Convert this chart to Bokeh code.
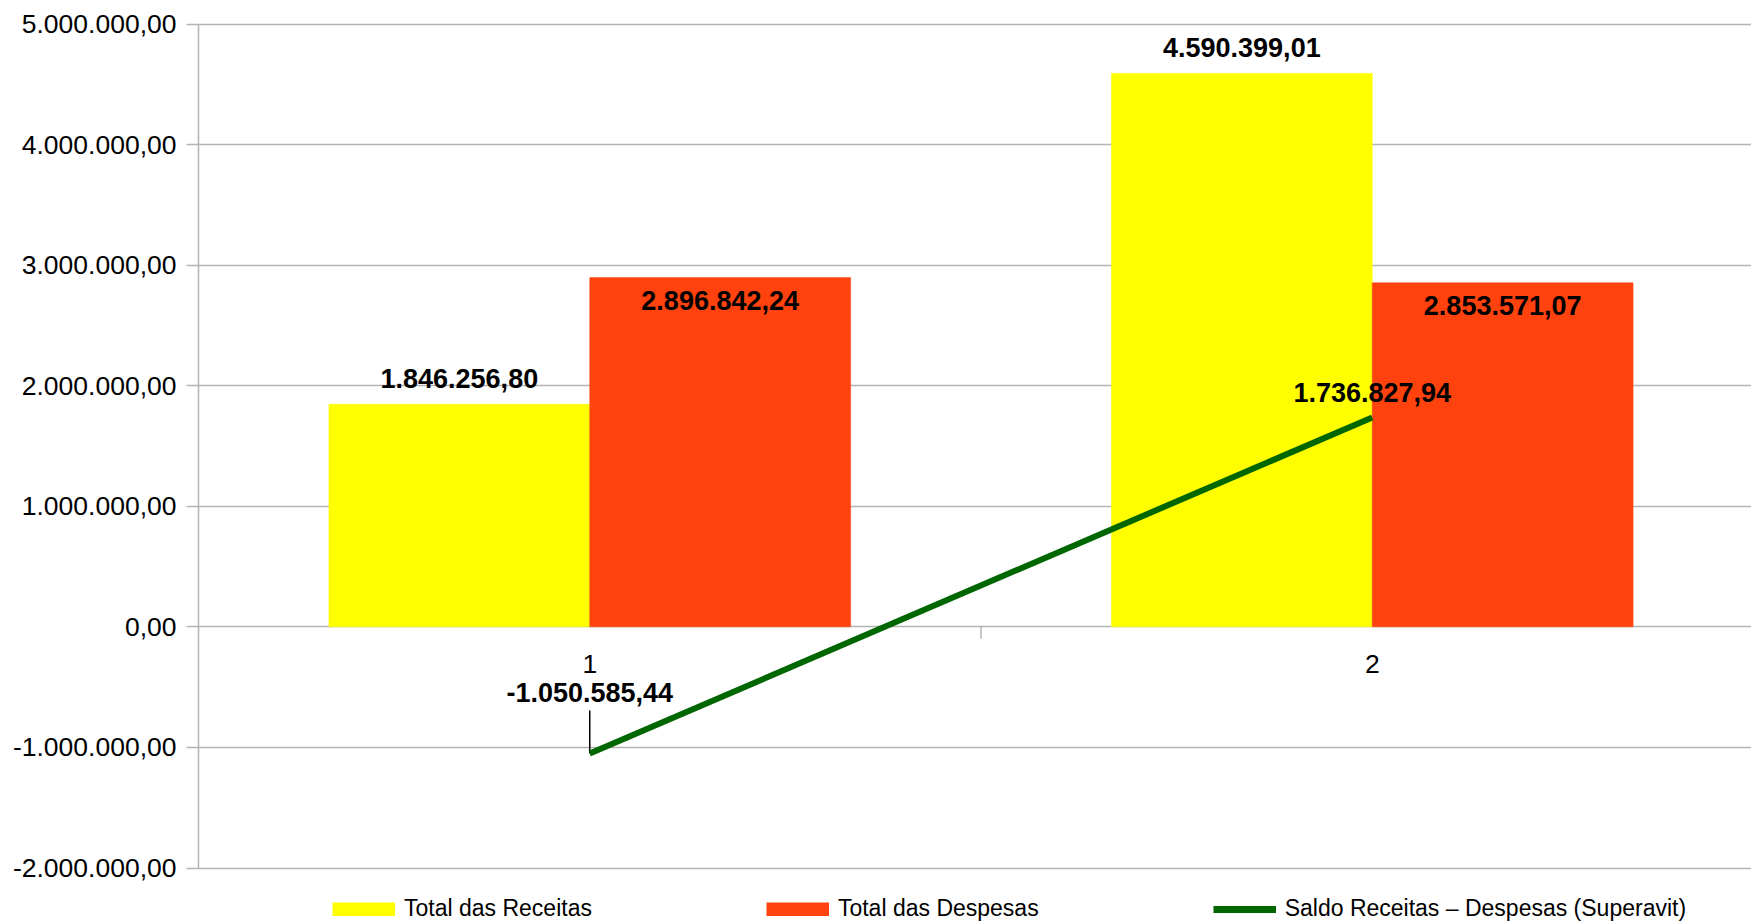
import numpy as np
from bokeh.plotting import figure
from bokeh.models import Range1d, FixedTicker, Legend, LegendItem, ColumnDataSource
from bokeh.core.properties import value
from bokeh.embed import file_html
from bokeh.resources import INLINE

# ---- data ----
categories = ["1", "2"]
cat_pos = [1, 2]
receitas = [1846256.80, 4590399.01]
despesas = [2896842.24, 2853571.07]
saldo = [-1050585.44, 1736827.94]
series_names = ["Total das Receitas", "Total das Despesas", "Saldo Receitas \u2013 Despesas (Superavit)"]
y_ticks = [-2000000, -1000000, 0, 1000000, 2000000, 3000000, 4000000, 5000000]
y_tick_labels = ["-2.000.000,00", "-1.000.000,00", "0,00", "1.000.000,00",
                 "2.000.000,00", "3.000.000,00", "4.000.000,00", "5.000.000,00"]


def br(v):
    s = f"{v:,.2f}"
    return s.replace(",", "X").replace(".", ",").replace("X", ".")


FONT = "Liberation Sans"
YELLOW = "#FFFF00"
RED = "#FF420E"
GREEN = "#006600"
GRID = "#B3B3B3"

W, H = 1751, 922
LEFT = 198
TOP_PX, BOT_PX = 23.5, 867.5           # pixel rows of the top / bottom ticks
CAT_W = 782.5                           # pixels per category
ymin, ymax = y_ticks[0], y_ticks[-1]
upp = (ymax - ymin) / (BOT_PX - TOP_PX)  # data units per pixel
y_start = ymin - (H - BOT_PX) * upp
y_end = ymax + TOP_PX * upp
x_end = 0.5 + (W - LEFT) / CAT_W

p = figure(width=W, height=H,
           x_range=Range1d(0.5, x_end), y_range=Range1d(y_start, y_end),
           output_backend="svg", toolbar_location=None, x_axis_location=None,
           min_border_left=LEFT, min_border_right=0, min_border_top=0, min_border_bottom=0)
p.outline_line_color = None
p.background_fill_color = "white"
p.border_fill_color = "white"

# axes / grid
p.yaxis.ticker = FixedTicker(ticks=y_ticks)
p.yaxis.bounds = (ymin, ymax)
p.yaxis.major_label_overrides = {t: l for t, l in zip(y_ticks, y_tick_labels)}
p.yaxis.axis_line_color = GRID
p.yaxis.axis_line_width = 1.5
p.yaxis.major_tick_line_color = GRID
p.yaxis.major_tick_line_width = 1.5
p.yaxis.major_tick_out = 12
p.yaxis.major_tick_in = 0
p.yaxis.minor_tick_line_color = None
p.yaxis.major_label_standoff = 10
p.yaxis.major_label_text_font = FONT
p.yaxis.major_label_text_font_size = "26.5px"
p.yaxis.major_label_text_color = "black"
p.ygrid.ticker = FixedTicker(ticks=y_ticks)
p.ygrid.grid_line_color = GRID
p.ygrid.grid_line_width = 1.5
p.xgrid.grid_line_color = None

bw = 1 / 3
xr = np.array(cat_pos) - bw / 2
xd = np.array(cat_pos) + bw / 2

p.vbar(x=xr, top=receitas, bottom=0, width=bw, fill_color=YELLOW, line_color=YELLOW, line_width=0.5)
p.vbar(x=xd, top=despesas, bottom=0, width=bw, fill_color=RED, line_color=RED, line_width=0.5)

# category boundary tick on the zero line
p.ray(x=[(cat_pos[0] + cat_pos[1]) / 2], y=[0], length=12, length_units="screen",
      angle=-np.pi / 2, line_color=GRID, line_width=1.5)

# leader line for first saldo label
p.ray(x=[cat_pos[0]], y=[saldo[0]], length=43, length_units="screen",
      angle=np.pi / 2, line_color="black", line_width=1.5)

p.line(x=cat_pos, y=saldo, line_color=GREEN, line_width=6)

# category labels
p.text(x=cat_pos, y=[0, 0], text=categories, y_offset=37, text_align="center",
       text_baseline="middle", text_font=value(FONT), text_font_size="26.5px", text_color="black")

# data labels
lbl = dict(text_align="center", text_baseline="middle", text_font=value(FONT),
           text_font_size="27px", text_font_style="bold", text_color="black")
p.text(x=xr, y=receitas, text=[br(v) for v in receitas], y_offset=-25.5, **lbl)
p.text(x=xd, y=despesas, text=[br(v) for v in despesas], y_offset=23, **lbl)
saldo_dy = [-61, -25]
src = ColumnDataSource(dict(x=cat_pos, y=saldo, t=[br(v) for v in saldo], dy=saldo_dy))
p.text(x="x", y="y", text="t", y_offset="dy", source=src, **lbl)

# legend swatches (proxy renderers with no visible data, drawn only in the legend)
nan = [np.nan, np.nan]
lg_rec = p.line(x=nan, y=nan, line_color=YELLOW, line_width=14)
lg_des = p.line(x=nan, y=nan, line_color=RED, line_width=14)
lg_sal = p.line(x=nan, y=nan, line_color=GREEN, line_width=7)

legend = Legend(items=[LegendItem(label=series_names[0], renderers=[lg_rec]),
                       LegendItem(label=series_names[1], renderers=[lg_des]),
                       LegendItem(label=series_names[2], renderers=[lg_sal])],
                orientation="horizontal", location=(134, 0), spacing=174,
                glyph_width=63, glyph_height=14, label_height=14, label_standoff=9,
                label_text_font=FONT, label_text_font_size="23px", label_text_color="black",
                padding=0, margin=0, border_line_color=None, background_fill_alpha=0)
p.add_layout(legend, "center")

open("out.html", "w").write(file_html(p, INLINE))
